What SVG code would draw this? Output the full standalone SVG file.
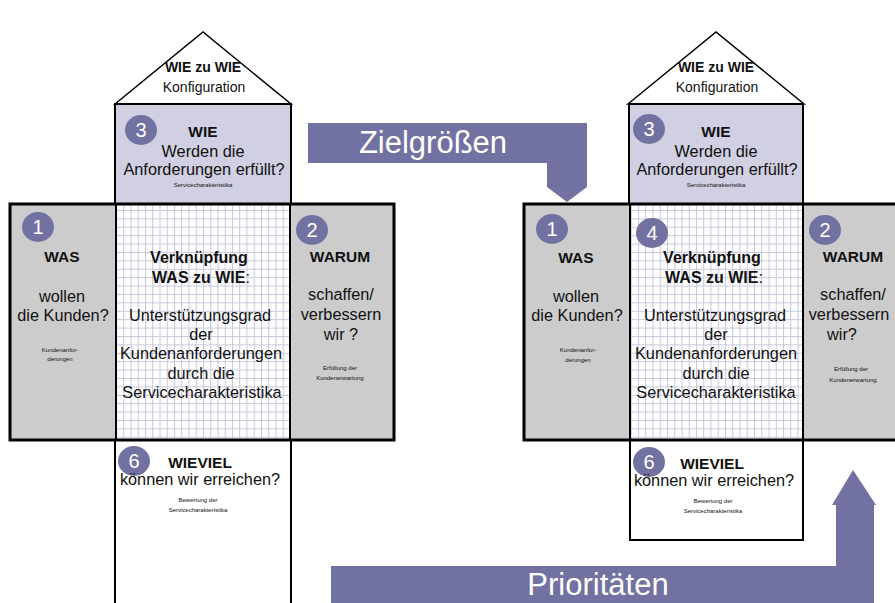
<svg xmlns="http://www.w3.org/2000/svg" width="895" height="603" viewBox="0 0 895 603">
<style>
text{font-family:"Liberation Sans",Arial,sans-serif;fill:#111;text-anchor:middle}
.b{font-weight:bold;font-size:15.5px}
.bh{font-weight:bold;font-size:16px}
.r{font-size:16.3px}
.t{font-size:6px}
.n{font-size:20px;fill:#fff}
.big{font-size:31px;fill:#fff}
.ln{stroke:#000;fill:none}
.gray{fill:#cccccc}
.wie{fill:#d0d0e2;stroke:#000;stroke-width:2}
.dot{fill:#7272a2}
.arrow{fill:#7272a2}
</style>
<defs>
<pattern id="grid" width="7.25" height="8.4" patternUnits="userSpaceOnUse">
<rect width="7.25" height="8.4" fill="#fff"/>
<path d="M0.5,0 V8.4 M0,0.5 H7.25" stroke="#c6c6de" stroke-width="1"/>
</pattern>
<pattern id="hatch" width="6" height="6" patternUnits="userSpaceOnUse">
<rect width="6" height="6" fill="#fff"/>
<path d="M0,0 L6,6 M6,0 L0,6" stroke="#b8b8c8" stroke-width="0.6"/>
</pattern>
</defs>
<rect width="895" height="603" fill="#fff"/>

<g id="left-house">
<g id="L-roof">
<polygon points="115,104 203,32 291,104" fill="url(#hatch)" class="ln" stroke-width="1.5"/>
<text x="203" y="72" class="b" style="font-size:14px">WIE zu WIE</text>
<text x="204" y="92" class="r" style="font-size:14px">Konfiguration</text>
</g>
<g id="L-wie">
<rect x="115" y="104" width="176" height="100" class="wie"/>
<ellipse cx="141" cy="130" rx="16" ry="15" class="dot"/>
<text x="141" y="137" class="n">3</text>
<text x="203" y="137" class="b">WIE</text>
<text x="203" y="157" class="r">Werden die</text>
<text x="204" y="175" class="r">Anforderungen erfüllt?</text>
<text x="203" y="187" class="t">Servicecharakteristika</text>
</g>
<g id="L-was">
<rect x="10" y="204" width="106" height="236" class="gray"/>
<ellipse cx="38" cy="227" rx="16" ry="15" class="dot"/>
<text x="38" y="234" class="n">1</text>
<text x="62" y="262" class="b">WAS</text>
<text x="62" y="302" class="r">wollen</text>
<text x="63" y="321" class="r">die Kunden?</text>
<text x="60" y="352" class="t">Kundenanfor-</text>
<text x="60" y="361" class="t">derungen</text>
</g>
<g id="L-link">
<rect x="116" y="204" width="174" height="236" fill="url(#grid)"/>
<text x="199" y="263" class="bh">Verknüpfung</text>
<text x="201" y="283" class="bh">WAS zu WIE<tspan style="font-weight:normal">:</tspan></text>
<text x="200" y="321" class="r">Unterstützungsgrad</text>
<text x="201" y="340" class="r">der</text>
<text x="201" y="359" class="r">Kundenanforderungen</text>
<text x="201" y="379" class="r">durch die</text>
<text x="202" y="398" class="r">Servicecharakteristika</text>
</g>
<g id="L-warum">
<rect x="290" y="204" width="104" height="236" class="gray"/>
<ellipse cx="312" cy="230" rx="16" ry="15" class="dot"/>
<text x="312" y="237" class="n">2</text>
<text x="340" y="262" class="b">WARUM</text>
<text x="341" y="300" class="r">schaffen/</text>
<text x="341" y="320" class="r">verbessern</text>
<text x="341" y="340" class="r">wir ?</text>
<text x="340" y="370" class="t">Erfüllung der</text>
<text x="340" y="380" class="t">Kundenerwartung</text>
</g>
<rect x="10" y="204" width="384" height="236" class="ln" stroke-width="3"/>
<path d="M116,204 V440 M290,204 V440" class="ln" stroke-width="2"/>
<g id="L-wieviel">
<rect x="115" y="440" width="176" height="175" fill="#fff" class="ln" stroke-width="2"/>
<ellipse cx="134" cy="461" rx="16" ry="15" class="dot"/>
<text x="134" y="468" class="n">6</text>
<text x="200" y="468" class="b">WIEVIEL</text>
<text x="200" y="485" class="r">können wir erreichen?</text>
<text x="198" y="502" class="t">Bewertung der</text>
<text x="198" y="512" class="t">Servicecharakteristika</text>
</g>
</g>

<g id="right-house">
<g id="R-roof">
<polygon points="628,104 716,32 804,104" fill="url(#hatch)" class="ln" stroke-width="1.5"/>
<text x="716" y="72" class="b" style="font-size:14px">WIE zu WIE</text>
<text x="717" y="92" class="r" style="font-size:14px">Konfiguration</text>
</g>
<g id="R-wie">
<rect x="629" y="104" width="174" height="100" class="wie"/>
<ellipse cx="649" cy="129" rx="16" ry="15" class="dot"/>
<text x="649" y="136" class="n">3</text>
<text x="716" y="137" class="b">WIE</text>
<text x="716" y="157" class="r">Werden die</text>
<text x="717" y="175" class="r">Anforderungen erfüllt?</text>
<text x="716" y="187" class="t">Servicecharakteristika</text>
</g>
<g id="R-was">
<rect x="524" y="204" width="106" height="236" class="gray"/>
<ellipse cx="552" cy="229" rx="16" ry="15" class="dot"/>
<text x="552" y="236" class="n">1</text>
<text x="576" y="263" class="b">WAS</text>
<text x="576" y="302" class="r">wollen</text>
<text x="577" y="321" class="r">die Kunden?</text>
<text x="578" y="352" class="t">Kundenanfor-</text>
<text x="578" y="362" class="t">derungen</text>
</g>
<g id="R-link">
<rect x="630" y="204" width="173" height="236" fill="url(#grid)"/>
<ellipse cx="652" cy="233" rx="16" ry="15" class="dot"/>
<text x="652" y="240" class="n">4</text>
<text x="712" y="263" class="bh">Verknüpfung</text>
<text x="714" y="283" class="bh">WAS zu WIE<tspan style="font-weight:normal">:</tspan></text>
<text x="715" y="321" class="r">Unterstützungsgrad</text>
<text x="716" y="340" class="r">der</text>
<text x="716" y="359" class="r">Kundenanforderungen</text>
<text x="716" y="379" class="r">durch die</text>
<text x="716" y="398" class="r">Servicecharakteristika</text>
</g>
<g id="R-warum">
<rect x="803" y="204" width="102" height="236" class="gray"/>
<ellipse cx="825" cy="230" rx="16" ry="15" class="dot"/>
<text x="825" y="237" class="n">2</text>
<text x="853" y="262" class="b">WARUM</text>
<text x="853" y="300" class="r">schaffen/</text>
<text x="849" y="320" class="r">verbessern</text>
<text x="842" y="340" class="r">wir?</text>
<text x="851" y="371" class="t">Erfüllung der</text>
<text x="853" y="382" class="t">Kundenerwartung</text>
</g>
<rect x="524" y="204" width="384" height="236" class="ln" stroke-width="3"/>
<path d="M630,204 V440 M803,204 V440" class="ln" stroke-width="2"/>
<g id="R-wieviel">
<rect x="630" y="440" width="173" height="100" fill="#fff" class="ln" stroke-width="2"/>
<ellipse cx="649" cy="462" rx="16" ry="15" class="dot"/>
<text x="649" y="469" class="n">6</text>
<text x="712" y="469" class="b">WIEVIEL</text>
<text x="714" y="486" class="r">können wir erreichen?</text>
<text x="713" y="503" class="t">Bewertung der</text>
<text x="713" y="513" class="t">Servicecharakteristika</text>
</g>
</g>

<g id="connectors">
<g id="zielgroessen">
<polygon points="308,123 587,123 587,187 567,202 547,187 547,163 308,163" class="arrow"/>
<text x="433" y="153" class="big">Zielgrößen</text>
</g>
<g id="prioritaeten">
<polygon points="331,566 836,566 836,505 832,505 853,470 876,505 874,505 874,603 331,603" class="arrow"/>
<text x="598" y="595" class="big">Prioritäten</text>
</g>
</g>
</svg>
